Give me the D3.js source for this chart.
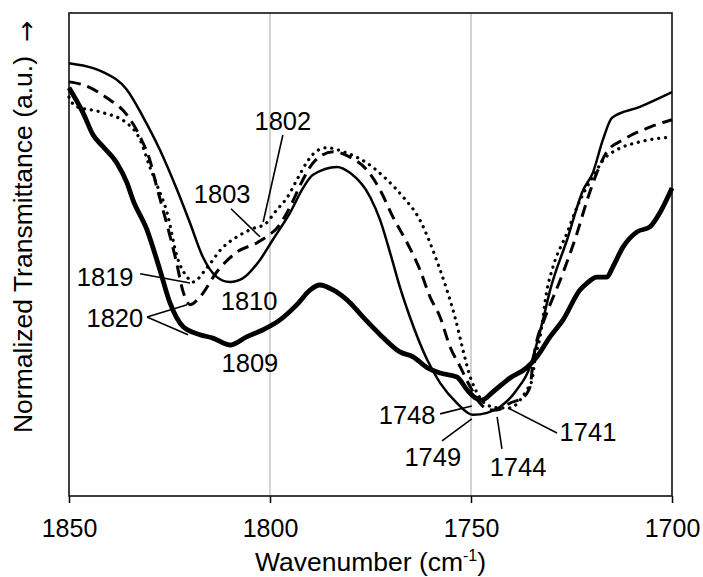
<!DOCTYPE html>
<html><head><meta charset="utf-8">
<script src="https://cdn.jsdelivr.net/npm/d3@7"></script>
<style>
html,body{margin:0;padding:0;background:#fff;}
text{font-family:"Liberation Sans",Arial,sans-serif;fill:#000;}
</style></head>
<body><svg id="chart" width="703" height="577"></svg>
<script>
// ---------- data (wavenumber cm-1, normalized transmittance a.u.) ----------
const xTicks = [1850, 1800, 1750, 1700];
const gridLines = [1800, 1750];

const thinSolid = [[1850,90.2],[1844.0,89.2],[1841.5,88.4],[1835.6,84.8],[1831.6,79.3],[1827.4,72.6],[1823.1,64.4],[1819.9,57.7],[1816.7,50.8],[1813.2,46.7],[1810.0,45.7],[1806.7,46.5],[1802.5,50.2],[1799.3,54.3],[1795.0,59.8],[1791.8,64.8],[1789.3,67.5],[1783.3,69.1],[1780.1,67.9],[1775.1,63.0],[1772.6,58.3],[1770.1,51.6],[1767.7,44.7],[1765.2,38.6],[1760.9,29.9],[1757.7,25.2],[1753.5,21.1],[1749.5,18.7],[1746.0,19.1],[1742.8,20.3],[1738.6,23.8],[1735.3,28.5],[1733.6,33.3],[1732.1,38.0],[1730.3,44.1],[1726.1,54.3],[1722.1,64.4],[1719.7,67.9],[1717.2,74.6],[1714.9,79.1],[1708.0,81.3],[1700,84.3]];

const dashed = [[1850,86.4],[1846.5,85.8],[1840.5,83.1],[1835.6,79.7],[1832.3,75.2],[1829.9,70.5],[1828.1,64.8],[1825.6,57.3],[1823.4,50.2],[1821.6,43.7],[1819.9,41.1],[1817.4,42.7],[1813.2,47.8],[1808.2,51.8],[1803.2,53.7],[1800.5,55.1],[1798.0,56.9],[1795.0,61.0],[1792.3,65.7],[1789.3,69.9],[1784.3,72.2],[1780.1,71.1],[1775.9,68.5],[1772.6,64.4],[1769.4,58.9],[1765.9,53.7],[1762.7,48.2],[1760.2,42.7],[1757.7,38.6],[1755.2,32.5],[1752.7,28.5],[1750.2,24.4],[1747.8,21.1],[1745.3,19.7],[1743.5,19.7],[1740.3,21.1],[1737.1,22.2],[1735.3,24.4],[1734.6,29.3],[1733.6,33.9],[1732.1,37.4],[1727.1,47.6],[1723.6,55.7],[1721.1,62.4],[1718.7,67.9],[1716.2,72.2],[1712.2,74.6],[1705.5,77.2],[1700,78.7]];

const dotted = [[1850,83.3],[1848.5,81.5],[1842.3,80.3],[1835.6,78.0],[1832.3,74.6],[1829.9,69.1],[1828.1,65.4],[1825.6,59.8],[1823.1,50.8],[1820.6,46.7],[1819.2,45.7],[1815.7,48.6],[1811.9,52.6],[1808.2,54.9],[1804.5,56.5],[1801.2,57.5],[1798.3,60.4],[1795.8,62.8],[1793.3,66.5],[1790.8,70.1],[1788.3,72.4],[1785.8,73.0],[1781.8,72.2],[1775.9,69.9],[1770.9,66.5],[1766.9,63.0],[1762.7,58.3],[1760.2,53.7],[1757.7,48.2],[1756.0,44.1],[1754.0,38.6],[1752.0,31.9],[1750.2,26.4],[1748.5,23.2],[1746.0,20.7],[1742.8,20.1],[1740.3,20.1],[1737.8,21.7],[1736.1,23.8],[1734.8,25.8],[1734.1,29.9],[1732.8,34.6],[1731.1,44.1],[1729.6,48.8],[1726.1,55.7],[1723.6,61.0],[1719.7,67.1],[1716.7,70.9],[1713.7,72.6],[1708.0,74.2],[1700,75.2]];

const thick = [[1850,85.2],[1846.5,80.1],[1844.0,75.6],[1841.5,73.2],[1838.1,69.9],[1835.6,65.9],[1834.1,62.4],[1830.6,56.3],[1827.4,48.2],[1824.9,41.5],[1821.6,36.6],[1817.4,35.0],[1814.2,34.3],[1810.0,32.9],[1805.7,34.6],[1801.7,36.0],[1797.5,38.0],[1793.3,41.1],[1790.0,44.1],[1787.6,45.1],[1784.3,44.1],[1780.1,41.5],[1776.9,38.6],[1772.6,35.0],[1767.7,31.5],[1764.4,30.5],[1760.9,28.3],[1757.7,27.2],[1753.5,26.4],[1751.0,23.8],[1749.0,22.2],[1747.3,21.7],[1744.5,23.4],[1740.3,26.2],[1736.1,28.3],[1733.6,30.5],[1730.3,34.6],[1727.1,38.0],[1722.9,44.1],[1721.1,45.5],[1718.7,46.7],[1716.2,46.7],[1714.7,48.8],[1712.2,52.8],[1708.7,55.9],[1705.5,56.9],[1703.0,59.8],[1700,64.8]];

// peak labels: text, label position, leader segments
const labelText = ["1802","1803","1819","1810","1820","1809","1748","1749","1744","1741"];
const labelPos  = [[1796.8,78.5],[1811.9,63.6],[1841.0,46.7],[1805.2,41.9],[1838.6,38.4],[1805.0,29.3],[1765.9,18.7],[1759.5,10.2],[1738.3,8.1],[1720.9,15.2]];
const leaders = [
  [[1796.8,75.6],[1801.7,57.9]],
  [[1809.7,60.6],[1802.5,54.9]],
  [[1832.3,47.4],[1819.9,45.5]],
  [[1830.6,38.6],[1820.6,41.1]],
  [[1830.6,38.6],[1820.4,35.0]],
  [[1757.7,18.9],[1749.8,20.5]],
  [[1757.2,13.4],[1749.8,17.9]],
  [[1742.3,11.8],[1743.5,18.3]],
  [[1728.6,15.0],[1740.8,20.1]]
];

const xTitle = "Wavenumber (cm";
const xTitleSup = "-1";
const yTitle = "Normalized Transmittance (a.u.)";
const yArrow = "\u2192";

// ---------- drawing ----------
const svg = d3.select("#chart");
const L = 69, R = 672, T = 13, B = 496;
const x = d3.scaleLinear().domain([1850, 1700]).range([L, R]);
const y = d3.scaleLinear().domain([2.2, 100.4]).range([B, T]);

// gridlines
svg.append("g").selectAll("line").data(gridLines).join("line")
  .attr("x1", d => x(d)).attr("x2", d => x(d))
  .attr("y1", T).attr("y2", B)
  .attr("stroke", "#c4c4c4").attr("stroke-width", 1.5);

// axis
const ax = svg.append("g").attr("transform", `translate(0,${B})`)
  .call(d3.axisBottom(x).tickValues(xTicks).tickFormat(d3.format("d")).tickSize(7).tickPadding(16));
ax.select(".domain").remove();
ax.selectAll(".tick line").attr("stroke", "#000").attr("stroke-width", 1.5);
ax.selectAll(".tick text").attr("font-size", 25).attr("font-family", '"Liberation Sans", Arial, sans-serif').attr("fill", "#000");

// frame
svg.append("rect").attr("x", L).attr("y", T).attr("width", R - L).attr("height", B - T)
  .attr("fill", "none").attr("stroke", "#111").attr("stroke-width", 1.6);

const line = d3.line().x(d => x(d[0])).y(d => y(d[1])).curve(d3.curveMonotoneX);
const plot = svg.append("g");
plot.append("path").datum(thinSolid).attr("d", line).attr("fill", "none").attr("stroke", "#000").attr("stroke-width", 2.5);
plot.append("path").datum(dashed).attr("d", line).attr("fill", "none").attr("stroke", "#000").attr("stroke-width", 3).attr("stroke-dasharray", "12,7");
plot.append("path").datum(dotted).attr("d", line).attr("fill", "none").attr("stroke", "#000").attr("stroke-width", 3.2).attr("stroke-dasharray", "0.1,6.8").attr("stroke-linecap", "round");
plot.append("path").datum(thick).attr("d", line).attr("fill", "none").attr("stroke", "#000").attr("stroke-width", 4.8).attr("stroke-linejoin", "round");

// leaders
svg.append("g").selectAll("line").data(leaders).join("line")
  .attr("x1", d => x(d[0][0])).attr("y1", d => y(d[0][1]))
  .attr("x2", d => x(d[1][0])).attr("y2", d => y(d[1][1]))
  .attr("stroke", "#000").attr("stroke-width", 1.6);

// peak labels
svg.append("g").selectAll("text").data(labelText).join("text")
  .attr("x", (d, i) => x(labelPos[i][0]))
  .attr("y", (d, i) => y(labelPos[i][1]) + 9)
  .attr("text-anchor", "middle").attr("font-size", 25.5).text(d => d);

// x title
const xt = svg.append("text").attr("x", (L + R) / 2).attr("y", 571).attr("text-anchor", "middle").attr("font-size", 26.5);
xt.append("tspan").text(xTitle);
xt.append("tspan").attr("font-size", 16).attr("dy", -10).text(xTitleSup);
xt.append("tspan").attr("dy", 10).text(")");

// y title
svg.append("text").attr("transform", "translate(32,244.5) rotate(-90)")
  .attr("text-anchor", "middle").attr("font-size", 26.5).text(yTitle);
svg.append("text").attr("transform", "translate(35,31.5) rotate(-90)")
  .attr("text-anchor", "middle").attr("font-size", 25)
  .style("font-family", '"DejaVu Sans", sans-serif').text(yArrow);
</script></body></html>
